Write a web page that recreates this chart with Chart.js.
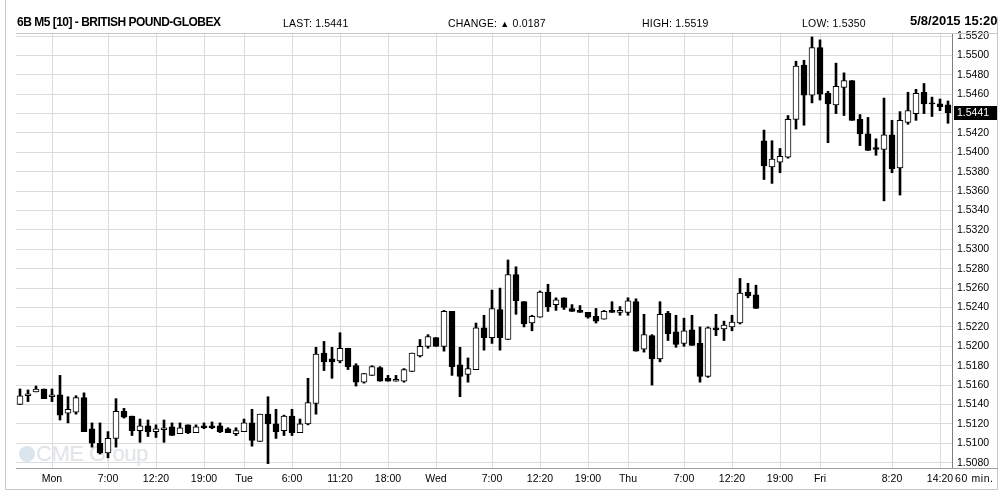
<!DOCTYPE html>
<html>
<head>
<meta charset="utf-8">
<script src="https://cdn.jsdelivr.net/npm/chart.js@4.4.0/dist/chart.umd.min.js"></script>
<style>
  body { margin: 0; background: #fff; }
  #wrap { position: relative; width: 1007px; height: 492px; overflow: hidden; font-family: Arial, "Liberation Sans", sans-serif; }
  #chart { position: absolute; left: 0; top: 0; }
  .hd { position: absolute; top: 17px; font-size: 10.5px; color: #000; white-space: nowrap; line-height: 12px; letter-spacing: 0.2px; }
  .hd.b { font-weight: bold; }
  #wm { position: absolute; left: 19px; top: 442px; color: #e0e4e8; font-size: 22px; white-space: nowrap; line-height: 24px; letter-spacing: -0.5px; }
  #wm i { display: inline-block; width: 16px; height: 16px; border-radius: 50%; background: #dbe5ee; vertical-align: -1px; margin-right: 1px; }
</style>
</head>
<body>
<div id="wrap">
  <div id="wm"><i></i>CME Group</div>
  <canvas id="chart" width="1007" height="492"></canvas>
  <span class="hd b" style="left:17px;top:16px;font-size:12px;letter-spacing:-0.5px">6B M5 [10] - BRITISH POUND-GLOBEX</span>
  <span class="hd" style="left:283px">LAST: 1.5441</span>
  <span class="hd" style="left:448px">CHANGE: <span style="font-size:9px;vertical-align:0px">&#9650;</span> 0.0187</span>
  <span class="hd" style="left:642px">HIGH: 1.5519</span>
  <span class="hd" style="left:802px">LOW: 1.5350</span>
  <span class="hd b" style="left:910px;top:15px;font-size:13px;letter-spacing:0">5/8/2015 15:20</span>
  <span class="hd" style="left:955px;top:472px;font-size:10.5px;letter-spacing:0.6px">60 min.</span>
</div>
<script>
// hourly bars, 6B M5 (British pound futures), Sunday evening -> Friday 15:20
const opens = [
  1.5140, 1.5149, 1.5153, 1.5156, 1.5148, 1.5150, 1.5131, 1.5132, 1.5147, 1.5115,
  1.5100, 1.5090, 1.5105, 1.5133, 1.5128, 1.5113, 1.5118, 1.5112, 1.5114, 1.5117,
  1.5110, 1.5119, 1.5111, 1.5118, 1.5118, 1.5118, 1.5115, 1.5110, 1.5112, 1.5121,
  1.5102, 1.5130, 1.5120, 1.5113, 1.5128, 1.5111, 1.5120, 1.5141, 1.5193, 1.5187,
  1.5185, 1.5198, 1.5180, 1.5163, 1.5170, 1.5178, 1.5167, 1.5164, 1.5164, 1.5174,
  1.5190, 1.5200, 1.5209, 1.5200, 1.5236, 1.5181, 1.5171, 1.5176, 1.5219, 1.5209,
  1.5238, 1.5207, 1.5274, 1.5246, 1.5224, 1.5230, 1.5256, 1.5243, 1.5250, 1.5239,
  1.5237, 1.5235, 1.5231, 1.5228, 1.5237, 1.5235, 1.5235, 1.5246, 1.5197, 1.5211,
  1.5187, 1.5234, 1.5215, 1.5203, 1.5217, 1.5203, 1.5169, 1.5219, 1.5218, 1.5220,
  1.5224, 1.5256, 1.5253, 1.5412, 1.5385, 1.5390, 1.5395, 1.5434, 1.5490, 1.5459,
  1.5508, 1.5461, 1.5449, 1.5467, 1.5474, 1.5434, 1.5419, 1.5405, 1.5403, 1.5418,
  1.5384, 1.5431, 1.5440, 1.5462, 1.5451, 1.5450, 1.5449
];
const highs = [
  1.5156, 1.5155, 1.5159, 1.5156, 1.5156, 1.5170, 1.5148, 1.5149, 1.5152, 1.5121,
  1.5121, 1.5112, 1.5146, 1.5136, 1.5128, 1.5125, 1.5124, 1.5119, 1.5124, 1.5121,
  1.5121, 1.5119, 1.5119, 1.5121, 1.5122, 1.5121, 1.5116, 1.5116, 1.5125, 1.5135,
  1.5130, 1.5148, 1.5135, 1.5129, 1.5135, 1.5125, 1.5167, 1.5199, 1.5205, 1.5199,
  1.5214, 1.5198, 1.5182, 1.5172, 1.5180, 1.5179, 1.5170, 1.5170, 1.5177, 1.5193,
  1.5207, 1.5212, 1.5209, 1.5237, 1.5236, 1.5199, 1.5188, 1.5224, 1.5232, 1.5258,
  1.5260, 1.5289, 1.5282, 1.5246, 1.5232, 1.5257, 1.5264, 1.5250, 1.5250, 1.5243,
  1.5242, 1.5235, 1.5239, 1.5237, 1.5246, 1.5241, 1.5250, 1.5249, 1.5233, 1.5212,
  1.5246, 1.5236, 1.5232, 1.5229, 1.5232, 1.5220, 1.5220, 1.5233, 1.5226, 1.5232,
  1.5270, 1.5265, 1.5263, 1.5423, 1.5412, 1.5404, 1.5438, 1.5494, 1.5495, 1.5519,
  1.5516, 1.5463, 1.5492, 1.5482, 1.5474, 1.5439, 1.5436, 1.5414, 1.5456, 1.5433,
  1.5442, 1.5462, 1.5465, 1.5471, 1.5457, 1.5455, 1.5453
];
const lows = [
  1.5140, 1.5143, 1.5153, 1.5146, 1.5143, 1.5124, 1.5121, 1.5130, 1.5112, 1.5096,
  1.5089, 1.5085, 1.5096, 1.5126, 1.5108, 1.5101, 1.5107, 1.5106, 1.5101, 1.5108,
  1.5110, 1.5110, 1.5111, 1.5115, 1.5115, 1.5111, 1.5111, 1.5108, 1.5112, 1.5097,
  1.5102, 1.5079, 1.5105, 1.5108, 1.5108, 1.5111, 1.5119, 1.5130, 1.5175, 1.5167,
  1.5183, 1.5176, 1.5159, 1.5162, 1.5170, 1.5164, 1.5164, 1.5164, 1.5163, 1.5174,
  1.5189, 1.5198, 1.5200, 1.5195, 1.5170, 1.5148, 1.5163, 1.5176, 1.5196, 1.5203,
  1.5196, 1.5207, 1.5233, 1.5220, 1.5216, 1.5230, 1.5236, 1.5237, 1.5238, 1.5236,
  1.5235, 1.5229, 1.5224, 1.5228, 1.5235, 1.5232, 1.5232, 1.5195, 1.5194, 1.5160,
  1.5184, 1.5206, 1.5199, 1.5200, 1.5201, 1.5163, 1.5168, 1.5211, 1.5206, 1.5216,
  1.5223, 1.5250, 1.5239, 1.5372, 1.5368, 1.5379, 1.5394, 1.5424, 1.5428, 1.5451,
  1.5454, 1.5410, 1.5440, 1.5438, 1.5433, 1.5407, 1.5402, 1.5397, 1.5350, 1.5379,
  1.5356, 1.5429, 1.5433, 1.5440, 1.5437, 1.5443, 1.5430
];
const closes = [
  1.5149, 1.5151, 1.5156, 1.5146, 1.5150, 1.5129, 1.5135, 1.5147, 1.5112, 1.5100,
  1.5090, 1.5105, 1.5133, 1.5127, 1.5113, 1.5118, 1.5112, 1.5115, 1.5116, 1.5108,
  1.5116, 1.5111, 1.5117, 1.5116, 1.5116, 1.5112, 1.5111, 1.5113, 1.5121, 1.5103,
  1.5130, 1.5120, 1.5112, 1.5128, 1.5111, 1.5120, 1.5142, 1.5192, 1.5184, 1.5184,
  1.5198, 1.5179, 1.5163, 1.5172, 1.5179, 1.5164, 1.5164, 1.5166, 1.5176, 1.5193,
  1.5200, 1.5210, 1.5200, 1.5236, 1.5179, 1.5169, 1.5177, 1.5219, 1.5209, 1.5239,
  1.5209, 1.5274, 1.5247, 1.5223, 1.5231, 1.5256, 1.5241, 1.5248, 1.5240, 1.5236,
  1.5235, 1.5230, 1.5226, 1.5236, 1.5235, 1.5237, 1.5247, 1.5195, 1.5212, 1.5187,
  1.5233, 1.5213, 1.5202, 1.5216, 1.5201, 1.5169, 1.5219, 1.5217, 1.5222, 1.5225,
  1.5255, 1.5252, 1.5239, 1.5386, 1.5393, 1.5396, 1.5434, 1.5489, 1.5459, 1.5508,
  1.5460, 1.5450, 1.5468, 1.5474, 1.5433, 1.5419, 1.5402, 1.5403, 1.5418, 1.5383,
  1.5433, 1.5443, 1.5461, 1.5450, 1.5450, 1.5447, 1.5441
];

// time axis labels: bar index -> text
const tickAt   = [4, 11, 17, 23, 28, 34, 40, 46, 52, 59, 65, 71, 76, 83, 89, 95, 100, 109, 115];
const tickText = ['Mon', '7:00', '12:20', '19:00', 'Tue', '6:00', '11:20', '18:00', 'Wed', '7:00',
                  '12:20', '19:00', 'Thu', '7:00', '12:20', '19:00', 'Fri', '8:20', '14:20'];
const priceTicks = [1.5080, 1.5100, 1.5120, 1.5140, 1.5160, 1.5180, 1.5200, 1.5220, 1.5240, 1.5260,
                    1.5280, 1.5300, 1.5320, 1.5340, 1.5360, 1.5380, 1.5400, 1.5420, 1.5440, 1.5460,
                    1.5480, 1.5500, 1.5520];
const lastPrice = 1.5441;

const cats = opens.map((o, i) => {
  const j = tickAt.indexOf(i);
  return j >= 0 ? tickText[j] : '';
});
const bodies = opens.map((o, i) => [Math.min(o, closes[i]), Math.max(o, closes[i])]);
const bodyFill = opens.map((o, i) => closes[i] >= o ? '#ffffff' : '#000000');
const wicks = lows.map((l, i) => [l, highs[i]]);

const frame = {
  id: 'frame',
  afterDraw(chart) {
    const c = chart.ctx, a = chart.chartArea;
    c.save();
    c.lineWidth = 1;
    c.strokeStyle = '#c8c8c8';
    c.beginPath();
    c.moveTo(a.left, a.top + 0.5); c.lineTo(998, a.top + 0.5);
    c.moveTo(5.5, 0); c.lineTo(5.5, 490);
    c.moveTo(5, 489.5); c.lineTo(998, 489.5);
    c.moveTo(997.5, 17); c.lineTo(997.5, 490);
    c.stroke();
    c.strokeStyle = '#a0a0a0';
    c.beginPath();
    c.moveTo(a.left, a.bottom + 0.5); c.lineTo(998, a.bottom + 0.5);
    c.stroke();
    // last price marker on the price axis
    const y = chart.scales.y.getPixelForValue(lastPrice);
    c.fillStyle = '#000';
    c.fillRect(a.right + 2, Math.round(y) - 7, 43, 14);
    c.fillStyle = '#fff';
    c.font = '10.5px Arial, "Liberation Sans", sans-serif';
    c.textBaseline = 'middle';
    c.fillText(lastPrice.toFixed(4), a.right + 5, Math.round(y));
    c.restore();
  }
};

new Chart(document.getElementById('chart'), {
  type: 'bar',
  data: {
    labels: cats,
    datasets: [
      {
        label: 'body',
        data: bodies,
        backgroundColor: bodyFill,
        borderColor: '#000',
        borderWidth: 1,
        borderSkipped: false,
        barThickness: 6,
        grouped: false,
        order: 0
      },
      {
        label: 'wick',
        data: wicks,
        backgroundColor: '#000',
        borderWidth: 0,
        barThickness: 2,
        grouped: false,
        order: 1
      }
    ]
  },
  options: {
    responsive: false,
    animation: false,
    devicePixelRatio: 1,
    events: [],
    layout: { padding: { left: 16, top: 33, right: 9, bottom: 4 } },
    plugins: { legend: { display: false }, tooltip: { enabled: false } },
    scales: {
      x: {
        type: 'category',
        offset: true,
        afterFit: (s) => { s.height = 20; },
        grid: {
          offset: false,
          drawTicks: false,
          color: (ctx) => (ctx.tick && cats[ctx.tick.value]) ? '#dcdcdc' : 'rgba(0,0,0,0)'
        },
        border: { display: false },
        ticks: {
          autoSkip: false,
          maxRotation: 0,
          minRotation: 0,
          padding: 5,
          color: '#000',
          font: { family: 'Arial, "Liberation Sans", sans-serif', size: 10.5 },
          callback: (v, i) => cats[i]
        }
      },
      y: {
        type: 'linear',
        position: 'right',
        min: 1.50745,
        max: 1.55231,
        afterFit: (s) => { s.width = 46; },
        afterBuildTicks: (s) => { s.ticks = priceTicks.map(v => ({ value: v })); },
        grid: { color: '#dcdcdc', drawTicks: false },
        border: { display: true, color: '#808080' },
        ticks: {
          padding: 5,
          color: '#000',
          font: { family: 'Arial, "Liberation Sans", sans-serif', size: 10.5 },
          callback: (v) => Math.abs(v - 1.544) < 1e-7 ? '' : v.toFixed(4)
        }
      }
    }
  },
  plugins: [frame]
});
</script>
</body>
</html>
